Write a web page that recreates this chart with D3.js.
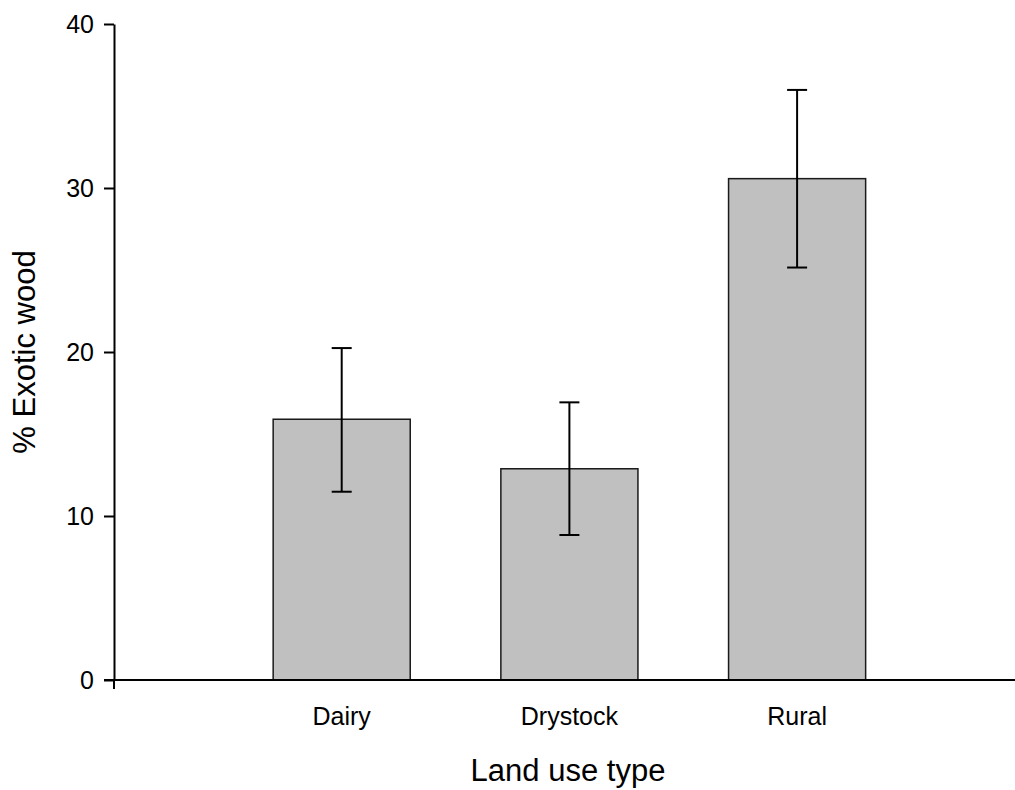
<!DOCTYPE html>
<html>
<head>
<meta charset="utf-8">
<script src="https://cdn.jsdelivr.net/npm/d3@7"></script>
<style>
  html, body { margin: 0; padding: 0; background: #fff; }
  text { font-family: "Liberation Sans", Arial, sans-serif; fill: #000; }
</style>
</head>
<body>
<svg id="chart" width="1015" height="790"></svg>
<script>
// Land use categories and the mean % exotic wood for each, with error bar limits
const categories = ["Dairy", "Drystock", "Rural"];
const means = [15.9, 12.88, 30.57];
const upper = [20.24, 16.93, 35.98];
const lower = [11.48, 8.84, 25.15];
const yTicks = [0, 10, 20, 30, 40];

const svg = d3.select("#chart");
const x0 = 114, yBottom = 680, yTop = 24;
const step = 227.7;

const y = d3.scaleLinear().domain([0, 40]).range([yBottom, yTop]);
const x = d3.scaleBand()
  .domain(categories)
  .range([x0 + step / 2, x0 + step * 3.5])
  .paddingInner(0.398)
  .paddingOuter(0.199);

// bars
svg.append("g").selectAll("rect")
  .data(categories)
  .join("rect")
  .attr("x", d => x(d))
  .attr("y", (d, i) => y(means[i]))
  .attr("width", x.bandwidth())
  .attr("height", (d, i) => y(0) - y(means[i]))
  .attr("fill", "#c0c0c0")
  .attr("stroke", "#1a1a1a")
  .attr("stroke-width", 1.5);

// error bars
const eb = svg.append("g").attr("stroke", "#000").attr("stroke-width", 2);
categories.forEach((c, i) => {
  const cx = x(c) + x.bandwidth() / 2;
  eb.append("line").attr("x1", cx).attr("x2", cx).attr("y1", y(upper[i])).attr("y2", y(lower[i]));
  eb.append("line").attr("x1", cx - 10).attr("x2", cx + 10).attr("y1", y(upper[i])).attr("y2", y(upper[i]));
  eb.append("line").attr("x1", cx - 10).attr("x2", cx + 10).attr("y1", y(lower[i])).attr("y2", y(lower[i]));
});

// y axis
const yAxis = svg.append("g")
  .attr("transform", `translate(${x0},0)`)
  .call(d3.axisLeft(y).tickValues(yTicks).tickSize(10).tickPadding(10).tickSizeOuter(0));
yAxis.selectAll("path, line").attr("stroke", "#000").attr("stroke-width", 2);
yAxis.selectAll("text").style("font-size", "25px").attr("fill", "#000");

// x axis line with left end tick
const xa = svg.append("g").attr("stroke", "#000").attr("stroke-width", 2);
xa.append("line").attr("x1", x0 - 10).attr("x2", 1015).attr("y1", yBottom).attr("y2", yBottom);
xa.append("line").attr("x1", x0).attr("x2", x0).attr("y1", yBottom).attr("y2", yBottom + 9);

// category labels
svg.append("g").selectAll("text")
  .data(categories)
  .join("text")
  .attr("x", d => x(d) + x.bandwidth() / 2)
  .attr("y", 725)
  .attr("text-anchor", "middle")
  .style("font-size", "25px")
  .text(d => d);

// axis titles
svg.append("text")
  .attr("x", 568).attr("y", 781)
  .attr("text-anchor", "middle")
  .style("font-size", "31px")
  .text("Land use type");

svg.append("text")
  .attr("transform", "translate(35,352) rotate(-90)")
  .attr("text-anchor", "middle")
  .style("font-size", "31px")
  .text("% Exotic wood");
</script>
</body>
</html>
